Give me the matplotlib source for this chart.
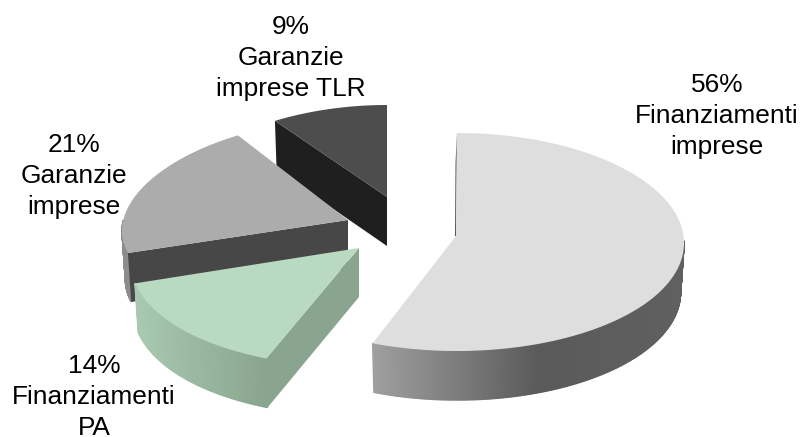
import numpy as np
import matplotlib
matplotlib.use('Agg')
import matplotlib.pyplot as plt
from matplotlib.patches import Polygon

plt.rcParams['font.family'] = ['Liberation Sans', 'DejaVu Sans']

# order: clockwise from 12 o'clock
names = ['Finanziamenti\nimprese', 'Finanziamenti\nPA', 'Garanzie\nimprese', 'Garanzie\nimprese TLR']
values = [56, 14, 21, 9]

# slice placement in pixels (exploded 3d look)
tips = [(456, 236), (359, 248), (348, 220), (387, 197)]
centers = [(457, 242), (357, 246), (350, 221.5), (387, 207)]
ry = [109, 121, 102, 102]
persp = [0.01, 0.093, 0.093, 0.093]
label_pos = [(717, 116), (94, 397), (74, 176), (291, 58)]
top_col = ['#dedede', '#b9dac1', '#acacac', '#4d4d4d']
cut_col = ['#5a5a5a', '#8aa58f', '#474747', '#1f1f1f']

RX = 227
DEPTH = 49
SHRINK = 0.985


def rim(i, ang):
    a = np.radians(ang)
    cx, cy = centers[i]
    x = cx + RX * np.cos(a) * (1 - persp[i] * np.sin(a))
    y = cy - ry[i] * np.sin(a)
    return x, y


def lower(i, x, y):
    cx = centers[i][0]
    return cx + (x - cx) * SHRINK, y + DEPTH


def wall_color(i, x):
    if i == 0:
        g = np.interp(x, [372, 540, 684], [160, 90, 96]) / 255
        return (g, g, g)
    if i == 1:
        return tuple(np.interp(x, [138, 265], [c0, c1]) / 255
                     for c0, c1 in [(168, 138), (200, 165), (176, 143)])
    return '#8c8c8c'


fig = plt.figure(figsize=(8.02, 4.37), dpi=100)
ax = fig.add_axes([0, 0, 1, 1])
ax.set_xlim(0, 802)
ax.set_ylim(437, 0)
ax.axis('off')

edges = 90 - np.cumsum([0] + values) * 3.6

# back slices first so the front ones cover them
for i in [3, 2, 1, 0]:
    z = 10 - i * 3
    start, stop = edges[i], edges[i + 1]
    angs = np.linspace(start, stop, int(abs(stop - start) * 2) + 2)
    xs, ys = rim(i, angs)
    xb, yb = lower(i, xs, ys)
    tx, ty = tips[i]

    if i == 0:
        # only a sliver of the 12 o'clock cut shows
        ax.add_patch(Polygon([(tx, ty), (tx - 1, ty), (xs[0] - 1.5, ys[0] + 30), (xs[0], ys[0])],
                             fc='#555555', ec='none', zorder=z))
    else:
        ax.add_patch(Polygon([(tx, ty), (xs[0], ys[0]), (xb[0], yb[0]), (tx, ty + DEPTH)],
                             fc=cut_col[i], ec='none', zorder=z + 0.5))

    # outer wall in strips for the shading, front half only
    for j in range(len(angs) - 1):
        if np.sin(np.radians(angs[j])) > 0.02 or np.sin(np.radians(angs[j + 1])) > 0.02:
            continue
        col = wall_color(i, xs[j])
        ax.add_patch(Polygon([(xs[j], ys[j]), (xs[j + 1], ys[j + 1]), (xb[j + 1], yb[j + 1]), (xb[j], yb[j])],
                             fc=col, ec=col, lw=1.0, zorder=z))

    ax.add_patch(Polygon([(tx, ty)] + list(zip(xs, ys)), fc=top_col[i], ec='none', zorder=z + 1))

for name, val, (lx, ly) in zip(names, values, label_pos):
    ax.text(lx, ly, f'{val}%\n{name}', ha='center', va='center', fontsize=18.9,
            color='black', linespacing=1.35, zorder=20)

fig.savefig('out.png', dpi=100)
